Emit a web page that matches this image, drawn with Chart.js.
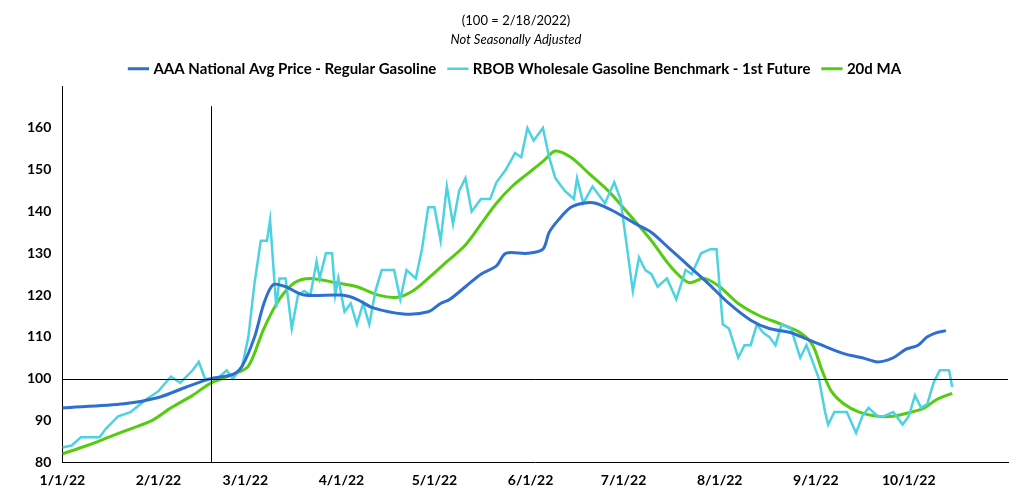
<!DOCTYPE html>
<html><head><meta charset="utf-8">
<script src="https://cdn.jsdelivr.net/npm/chart.js@4"></script>
<style>html,body{margin:0;background:#fff}</style>
</head><body><canvas id="c" width="1020" height="497"></canvas>
<script>
const monthTickDays=[0,31,59,90,120,151,181,212,243,273];
const monthTickLabels=['1/1/22','2/1/22','3/1/22','4/1/22','5/1/22','6/1/22','7/1/22','8/1/22','9/1/22','10/1/22'];
const aaaDays=[0,20,31,40,48,55,58,62,65,68,72,78,90,95,100,110,118,122,125,130,135,140,143,150,155,157,160,164,168,172,178,185,190,196,202,208,215,222,228,235,240,245,252,258,263,268,272,276,279,282,285];
const aaaVals=[93,94,95.5,98,100,101,103,110,118,122.5,122,120,120,119,117,115.5,116,118,119,122,125,127,130,130,131,135,138,141,142,142,140,137,135,131,127,123,118,114,112,111,109.5,108,106,105,104,105,107,108,110,111,111.5];
const rbobDays=[0,3,6,12,14,18,22,27,31,35,38,42,44,46,50,53,55,58,60,62,64,66,67,69,70,72,74,76,78,80,82,83,85,87,88,89,91,93,95,97,99,101,103,107,109,111,114,116,118,120,122,124,126,128,130,132,135,138,140,143,146,148,150,152,155,157,159,162,165,166,168,171,175,178,180,182,184,186,188,190,192,195,198,201,203,206,209,211,213,215,218,220,222,224,226,228,230,232,235,238,240,242,244,246,247,249,253,256,258,260,263,265,268,271,273,275,277,279,281,283,286,287];
const rbobVals=[83.5,84,86,86,88,91,92,95,97,100.5,99,102,104,100,100,102,100,103,110,123,133,133,138,117,124,124,112,120,121,120,128,124,130,130,120,124,116,118,113,118,113,121,126,126,119,126,124,131,141,141,133,146,137,145,148,140,143,143,147,150,154,153,160,157,160,153,148,145,143,148,142,146,142,147,143,132,121,129,126,125,122,124,119,126,125,130,131,131,113,112,105,108,108,113,111,110,108,113,112,105,108,104,100,92,89,92,92,87,91,93,91,91,92,89,91,96,93,94,99,102,102,98];
const maDays=[0,8,15,22,29,35,42,48,55,60,65,70,75,80,88,95,102,108,113,118,124,130,136,140,145,150,155,159,164,170,176,182,190,196,202,207,212,218,225,232,238,242,245,248,252,257,263,268,274,278,282,287];
const maVals=[82,84,86,88,90,93,96,99,101,103,112,119,123,124,123,122,120,119.5,121,124,128,132,138,142,146,149,152,154.5,153,149,145,140,133,127,123,124,122,118,115,113,111,108,102,97,94,92,91,91,92,93,95,96.5];
const seriesNames=['AAA National Avg Price - Regular Gasoline','RBOB Wholesale Gasoline Benchmark - 1st Future','20d MA'];
const zip=(d,v)=>d.map((x,i)=>({x,y:v[i]}));
const refLines={id:'ref',afterDatasetsDraw(ch){const {ctx,scales:{x,y},chartArea:a}=ch;ctx.save();ctx.strokeStyle='#000';ctx.lineWidth=1;
const yy=Math.round(y.getPixelForValue(100))+0.5;ctx.beginPath();ctx.moveTo(a.left,yy);ctx.lineTo(a.right,yy);ctx.stroke();
const xx=Math.round(x.getPixelForValue(48))+0.5;ctx.beginPath();ctx.moveTo(xx,a.top+20);ctx.lineTo(xx,a.bottom);ctx.stroke();ctx.restore();}};
Chart.defaults.font.family='Lato';
new Chart(document.getElementById('c'),{type:'line',
data:{datasets:[
{label:seriesNames[0],data:zip(aaaDays,aaaVals),borderColor:'#2e6fd0',borderWidth:3,pointRadius:0,tension:0.3},
{label:seriesNames[1],data:zip(rbobDays,rbobVals),borderColor:'#4dd2e0',borderWidth:2.5,pointRadius:0,tension:0},
{label:seriesNames[2],data:zip(maDays,maVals),borderColor:'#55cc11',borderWidth:3,pointRadius:0,tension:0.3}]},
options:{responsive:false,animation:false,devicePixelRatio:1,
layout:{padding:{left:24,right:12,top:9,bottom:4}},
plugins:{title:{display:true,text:'(100 = 2/18/2022)',color:'#000',font:{size:13,weight:'normal'},padding:{top:4,bottom:0}},
subtitle:{display:true,text:'Not Seasonally Adjusted',color:'#000',font:{size:13,style:'italic'},padding:{top:3,bottom:0}},
legend:{labels:{usePointStyle:true,pointStyle:'line',boxWidth:30,color:'#000',font:{size:15,weight:'bold'},padding:14}},tooltip:{enabled:false}},
scales:{x:{type:'linear',min:0,max:305,grid:{display:false,drawTicks:true,tickLength:6},border:{color:'#000'},
afterBuildTicks:(s)=>{s.ticks=monthTickDays.map(v=>({value:v}));},
ticks:{autoSkip:false,maxRotation:0,color:'#000',padding:4,font:{size:14,weight:'bold'},callback:(v)=>monthTickLabels[monthTickDays.indexOf(v)]}},
y:{min:80,max:170,grid:{display:false},border:{color:'#000'},
ticks:{stepSize:10,color:'#000',font:{size:14,weight:'bold'},callback:(v)=>v===170?'':v}}}},
plugins:[refLines]});
</script></body></html>
